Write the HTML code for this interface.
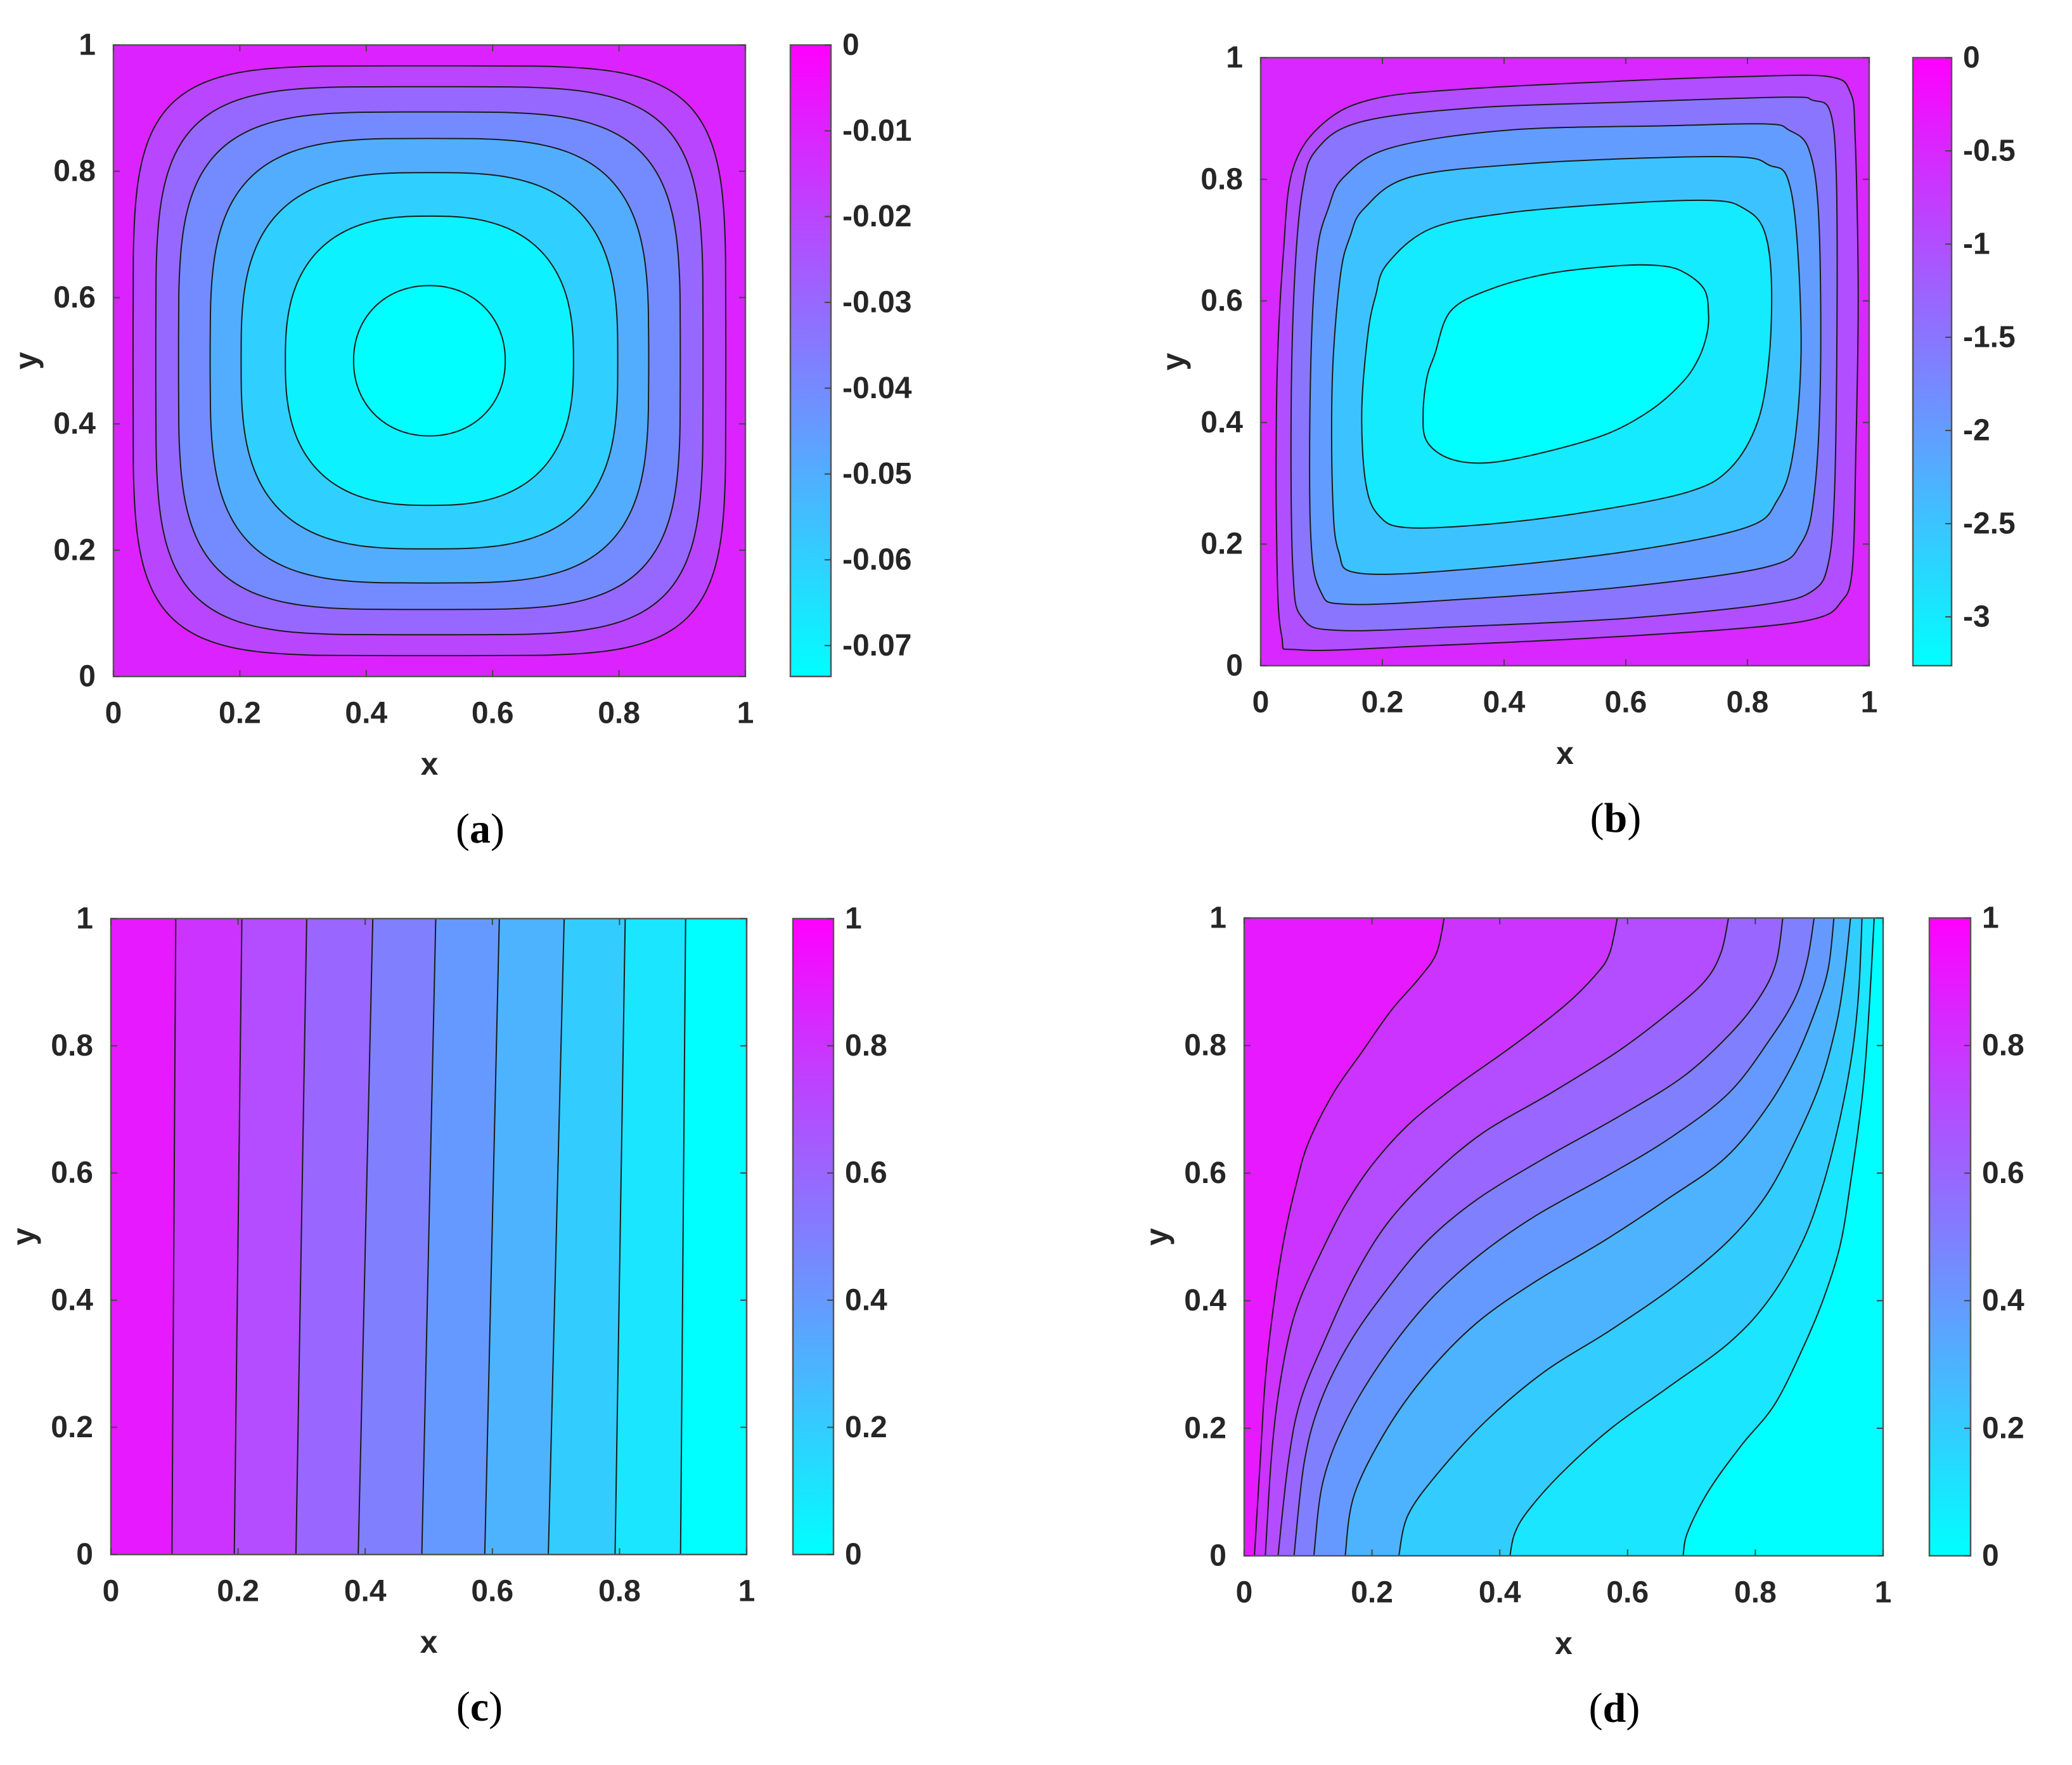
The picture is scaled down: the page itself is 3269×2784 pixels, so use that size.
<!DOCTYPE html>
<html><head><meta charset="utf-8"><style>
html,body{margin:0;padding:0;background:#fff;}
svg{display:block;}
text{font-family:"Liberation Sans",Arial,sans-serif;font-weight:bold;fill:#262626;}
.cap{font-family:"Liberation Serif","Times New Roman",serif;font-weight:normal;fill:#000;}
</style></head><body>
<svg id="fig" xmlns="http://www.w3.org/2000/svg" width="3269" height="2784" viewBox="0 0 3269 2784"></svg>
<script>
// ---------- data ----------
const axisTicks=[0,0.2,0.4,0.6,0.8,1];
const axisTickLabels=["0","0.2","0.4","0.6","0.8","1"];

// panel a: stream function contours (superellipse-like, centered)
const aLevels=[-0.01,-0.02,-0.03,-0.04,-0.05,-0.06,-0.07];
const aMin=-0.0736, aMax=0;
const aHalfX=[0.469,0.433,0.397,0.347,0.298,0.228,0.12];
const aHalfY=[0.467,0.434,0.394,0.352,0.298,0.229,0.119];
const aShape=[5,4.5,4,3.5,3.0,2.6,2.1];
const aCbTicks=[0,-0.01,-0.02,-0.03,-0.04,-0.05,-0.06,-0.07];
const aCbLabels=["0","-0.01","-0.02","-0.03","-0.04","-0.05","-0.06","-0.07"];

// panel b
const bLevels=[-0.5,-1,-1.5,-2,-2.5,-3];
const bMin=-3.262, bMax=0;
const bContour1=[[.105,.894],[.189,.933],[.344,.949],[.603,.962],[.797,.969],[.933,.969],[.969,.943],[.977,.868],[.982,.609],[.978,.350],[.972,.156],[.953,.104],[.914,.078],[.797,.062],[.538,.045],[.280,.033],[.066,.026],[.034,.052],[.026,.220],[.027,.480],[.037,.674],[.053,.817]];
const bContour2=[[.092,.849],[.163,.894],[.344,.917],[.603,.927],[.862,.935],[.907,.930],[.936,.911],[.946,.804],[.947,.544],[.943,.285],[.933,.169],[.907,.123],[.830,.101],[.603,.078],[.344,.065],[.131,.058],[.069,.078],[.053,.156],[.050,.415],[.056,.642],[.069,.784]];
const bContour3=[[.137,.804],[.215,.852],[.409,.881],[.668,.888],[.830,.891],[.868,.881],[.901,.849],[.917,.739],[.920,.480],[.910,.285],[.888,.201],[.830,.162],[.603,.130],[.344,.110],[.144,.101],[.098,.123],[.082,.220],[.082,.480],[.092,.674],[.111,.752]];
const bContour4=[[.170,.752],[.247,.804],[.441,.826],[.668,.836],[.797,.836],[.836,.823],[.865,.804],[.881,.706],[.888,.512],[.875,.350],[.849,.272],[.797,.227],[.603,.188],[.344,.159],[.163,.152],[.128,.188],[.118,.285],[.118,.480],[.131,.642],[.147,.706]];
const bContour5=[[.208,.661],[.280,.719],[.409,.745],[.603,.761],[.745,.765],[.794,.752],[.826,.719],[.839,.642],[.836,.512],[.817,.402],[.771,.324],[.700,.285],[.538,.253],[.377,.233],[.241,.227],[.195,.246],[.173,.298],[.166,.415],[.176,.544],[.189,.609]];
const bContour6=[[.312,.583],[.377,.619],[.474,.645],[.590,.658],[.655,.658],[.694,.648],[.729,.619],[.736,.577],[.733,.544],[.720,.506],[.694,.467],[.642,.421],[.571,.382],[.474,.353],[.377,.334],[.312,.340],[.273,.369],[.267,.415],[.273,.473],[.286,.512]];
const bCbTicks=[0,-0.5,-1,-1.5,-2,-2.5,-3];
const bCbLabels=["0","-0.5","-1","-1.5","-2","-2.5","-3"];

// panel c: nearly vertical isolines (x at bottom, x at top)
const cLevels=[0.9,0.8,0.7,0.6,0.5,0.4,0.3,0.2,0.1];
const cBottomX=[0.096,0.194,0.291,0.389,0.489,0.588,0.688,0.793,0.896];
const cTopX=[0.102,0.206,0.308,0.412,0.511,0.611,0.713,0.809,0.904];
const cMin=0, cMax=1;
const cbTicks01=[0,0.2,0.4,0.6,0.8,1];
const cbLabels01=["0","0.2","0.4","0.6","0.8","1"];

// panel d: S-shaped isolines
const dLevels=[0.9,0.8,0.7,0.6,0.5,0.4,0.3,0.2,0.1];
const dMin=0, dMax=1;
const dCurve09=[[0.313,1],[0.301,.945],[0.275,.907],[0.230,.855],[0.185,.791],[0.140,.726],[0.101,.649],[0.082,.585],[0.062,.495],[0.046,.392],[0.033,.276],[0.025,.147],[0.016,0]];
const dCurve08=[[0.584,1],[0.572,.945],[0.552,.913],[0.501,.862],[0.417,.797],[0.327,.733],[0.256,.675],[0.198,.610],[0.156,.546],[0.120,.475],[0.088,.404],[0.069,.340],[0.052,.243],[0.042,.147],[0.033,0]];
const dCurve07=[[0.758,1],[0.746,.945],[0.720,.900],[0.662,.849],[0.585,.791],[0.481,.726],[0.372,.662],[0.288,.591],[0.223,.520],[0.172,.437],[0.127,.340],[0.088,.243],[0.069,.147],[0.053,0]];
const dCurve06=[[0.843,1],[0.833,.932],[0.810,.881],[0.765,.823],[0.688,.752],[0.585,.688],[0.469,.623],[0.365,.559],[0.288,.495],[0.223,.417],[0.165,.334],[0.120,.243],[0.094,.147],[0.078,0]];
const dCurve05=[[0.892,1],[0.881,.932],[0.862,.874],[0.823,.810],[0.759,.726],[0.668,.656],[0.572,.598],[0.456,.533],[0.365,.469],[0.288,.398],[0.217,.308],[0.159,.211],[0.123,.115],[0.109,0]];
const dCurve04=[[0.923,1],[0.914,.920],[0.894,.855],[0.862,.778],[0.817,.701],[0.752,.623],[0.662,.559],[0.565,.495],[0.456,.430],[0.365,.366],[0.288,.288],[0.223,.198],[0.172,.095],[0.158,0]];
const dCurve03=[[0.949,1],[0.939,.907],[0.926,.829],[0.901,.739],[0.862,.649],[0.817,.565],[0.759,.495],[0.675,.424],[0.572,.353],[0.469,.288],[0.378,.211],[0.301,.127],[0.256,.063],[0.242,0]];
const dCurve02=[[0.967,1],[0.962,.887],[0.952,.791],[0.933,.688],[0.907,.585],[0.875,.495],[0.823,.404],[0.759,.334],[0.662,.263],[0.572,.198],[0.494,.127],[0.443,.069],[0.423,.034],[0.416,0]];
const dCurve01=[[0.986,1],[0.978,.855],[0.968,.726],[0.949,.585],[0.933,.488],[0.907,.404],[0.875,.327],[0.830,.237],[0.778,.173],[0.727,.102],[0.694,.037],[0.687,0]];

// ---------- helpers ----------
const NS="http://www.w3.org/2000/svg";
const svg=document.getElementById('fig');
function mk(tag,attrs,parent){const e=document.createElementNS(NS,tag);for(const k in attrs)e.setAttribute(k,attrs[k]);(parent||svg).appendChild(e);return e;}
function cool(t){t=Math.max(0,Math.min(1,t));return `rgb(${Math.round(255*t)},${Math.round(255*(1-t))},255)`;}
function crPath(pts,closed){
  const n=pts.length;let d=`M${pts[0][0].toFixed(1)},${pts[0][1].toFixed(1)}`;
  const get=i=>closed?pts[(i+n)%n]:pts[Math.max(0,Math.min(n-1,i))];
  const last=closed?n:n-1;
  for(let i=0;i<last;i++){const p0=get(i-1),p1=get(i),p2=get(i+1),p3=get(i+2);
    const c1=[p1[0]+(p2[0]-p0[0])/6,p1[1]+(p2[1]-p0[1])/6],c2=[p2[0]-(p3[0]-p1[0])/6,p2[1]-(p3[1]-p1[1])/6];
    d+=`C${c1[0].toFixed(1)},${c1[1].toFixed(1)} ${c2[0].toFixed(1)},${c2[1].toFixed(1)} ${p2[0].toFixed(1)},${p2[1].toFixed(1)}`;}
  if(closed)d+='Z';return d;}

let clipId=0;
function makePanel(P){
  const g=mk('g',{});  
  const sx=v=>P.x0+(P.x1-P.x0)*v, sy=v=>P.y1-(P.y1-P.y0)*v;
  const norm=v=>(v-P.min)/(P.max-P.min);
  const cid='clip'+(clipId++);
  const cp=mk('clipPath',{id:cid},g); mk('rect',{x:P.x0,y:P.y0,width:P.x1-P.x0,height:P.y1-P.y0},cp);
  const plot=mk('g',{'clip-path':`url(#${cid})`},g);
   
  P.draw(plot,sx,sy,norm);
  const box=mk('rect',{x:P.x0,y:P.y0,width:P.x1-P.x0,height:P.y1-P.y0,fill:'none',stroke:'#555',"stroke-width":2.5},g);
   
  axisTicks.forEach((t,i)=>{
    mk('line',{x1:sx(t),x2:sx(t),y1:P.y1,y2:P.y1-10,stroke:'#444',"stroke-width":2},g);
    mk('line',{x1:sx(t),x2:sx(t),y1:P.y0,y2:P.y0+10,stroke:'#444',"stroke-width":2},g);
    mk('line',{x1:P.x0,x2:P.x0+10,y1:sy(t),y2:sy(t),stroke:'#444',"stroke-width":2},g);
    mk('line',{x1:P.x1,x2:P.x1-10,y1:sy(t),y2:sy(t),stroke:'#444',"stroke-width":2},g);
    const xt=mk('text',{x:sx(t),y:P.y1+58,"font-size":48,"text-anchor":"middle","dominant-baseline":"central"},g);
    xt.textContent=axisTickLabels[i];
     
    const yt=mk('text',{x:P.x0-28,y:sy(t),"font-size":48,"text-anchor":"end","dominant-baseline":"central"},g);
    yt.textContent=axisTickLabels[i];
     
  });
  const xl=mk('text',{x:(P.x0+P.x1)/2,y:P.y1+138,"font-size":50,"text-anchor":"middle","dominant-baseline":"central"},g);
  xl.textContent='x';  
  const ycx=P.x0-138, ycy=(P.y0+P.y1)/2;
  const yl=mk('text',{x:ycx,y:ycy,"font-size":50,"text-anchor":"middle","dominant-baseline":"central",transform:`rotate(-90 ${ycx} ${ycy})`},g);
  yl.textContent='y';  
  const gid='grad'+P.id;
  const lg=mk('linearGradient',{id:gid,x1:0,y1:0,x2:0,y2:1},g);
  mk('stop',{offset:0,'stop-color':cool(1)},lg); mk('stop',{offset:1,'stop-color':cool(0)},lg);
  const cb=mk('rect',{x:P.cx0,y:P.y0,width:P.cx1-P.cx0,height:P.y1-P.y0,fill:`url(#${gid})`,stroke:'#555',"stroke-width":2.5},g);
   
  const cy=v=>P.y1-(P.y1-P.y0)*norm(v);
  P.cbTicks.forEach((t,i)=>{
    mk('line',{x1:P.cx1,x2:P.cx1-10,y1:cy(t),y2:cy(t),stroke:'#444',"stroke-width":2},g);
    const ct=mk('text',{x:P.cx1+18,y:cy(t),"font-size":48,"dominant-baseline":"central"},g);
    ct.textContent=P.cbLabels[i];
     
  });
  const cap=mk('text',{x:(P.x0+P.x1)/2+80,y:P.y1+240,"font-size":66,"text-anchor":"middle","dominant-baseline":"central",class:'cap'},g);
  cap.innerHTML=`(<tspan font-weight="bold">${P.id}</tspan>)`;
   
}
const LINE={fill:'none',stroke:'#1a1a1a',"stroke-width":2};

function drawClosed(plot,sx,sy,norm,levels,min,contours,name){
  const bg=mk('rect',{x:sx(0),y:sy(1),width:sx(1)-sx(0),height:sy(0)-sy(1),fill:cool(norm(levels[0]))},plot);
   
  contours.forEach((c,k)=>{
    const pts=c.map(p=>[sx(p[0]),sy(p[1])]);
    const fillV=k+1<levels.length?levels[k+1]:min;
    const f=mk('path',{d:crPath(pts,true),fill:cool(norm(fillV))},plot);
     
  });
  contours.forEach(c=>{
    const pts=c.map(p=>[sx(p[0]),sy(p[1])]);
    const l=mk('path',Object.assign({d:crPath(pts,true)},LINE),plot);
     
  });
}
function superellipse(hx,hy,n){
  const pts=[];
  for(let i=0;i<96;i++){const a=i/96*2*Math.PI,c=Math.cos(a),s=Math.sin(a);
    pts.push([0.5+hx*Math.sign(c)*Math.pow(Math.abs(c),2/n),0.5+hy*Math.sign(s)*Math.pow(Math.abs(s),2/n)]);}
  return pts;}
function drawOpen(plot,sx,sy,norm,levels,min,curves,name){
  const bg=mk('rect',{x:sx(0),y:sy(1),width:sx(1)-sx(0),height:sy(0)-sy(1),fill:cool(norm(min))},plot);
   
  for(let k=curves.length-1;k>=0;k--){
    const pts=curves[k].map(p=>[sx(p[0]),sy(p[1])]);
    const d=crPath(pts,false)+`L${sx(0)-5},${sy(0)+5}L${sx(0)-5},${sy(1)-5}Z`;
    const f=mk('path',{d:d,fill:cool(norm(levels[k]))},plot);
     
  }
  curves.forEach(c=>{
    const pts=c.map(p=>[sx(p[0]),sy(p[1])]);
    const l=mk('path',Object.assign({d:crPath(pts,false)},LINE),plot);
     
  });
}

makePanel({id:'a',x0:179,x1:1176,y0:71,y1:1067,cx0:1247,cx1:1311,min:aMin,max:aMax,cbTicks:aCbTicks,cbLabels:aCbLabels,
  draw:(p,sx,sy,n)=>drawClosed(p,sx,sy,n,aLevels,aMin,aHalfX.map((h,i)=>superellipse(h,aHalfY[i],aShape[i])),'psi-a')});
makePanel({id:'b',x0:1989,x1:2949,y0:91,y1:1050,cx0:3018,cx1:3079,min:bMin,max:bMax,cbTicks:bCbTicks,cbLabels:bCbLabels,
  draw:(p,sx,sy,n)=>drawClosed(p,sx,sy,n,bLevels,bMin,[bContour1,bContour2,bContour3,bContour4,bContour5,bContour6],'psi-b')});
makePanel({id:'c',x0:175,x1:1178,y0:1449,y1:2452,cx0:1251,cx1:1315,min:cMin,max:cMax,cbTicks:cbTicks01,cbLabels:cbLabels01,
  draw:(p,sx,sy,n)=>drawOpen(p,sx,sy,n,cLevels,cMin,cBottomX.map((b,i)=>[[cTopX[i],1],[(cTopX[i]+b)/2,0.5],[b,0]]),'theta-c')});
makePanel({id:'d',x0:1963,x1:2971,y0:1448,y1:2454,cx0:3044,cx1:3109,min:dMin,max:dMax,cbTicks:cbTicks01,cbLabels:cbLabels01,
  draw:(p,sx,sy,n)=>drawOpen(p,sx,sy,n,dLevels,dMin,[dCurve09,dCurve08,dCurve07,dCurve06,dCurve05,dCurve04,dCurve03,dCurve02,dCurve01],'theta-d')});
</script>
</body></html>
